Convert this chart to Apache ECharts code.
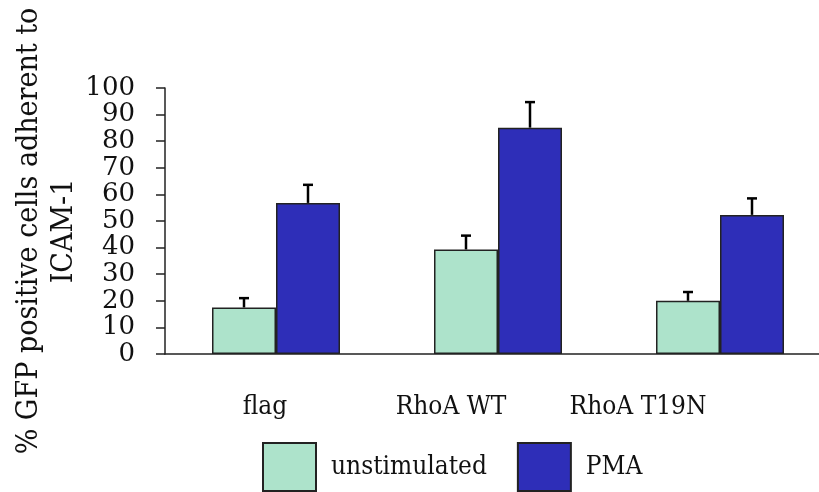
<!DOCTYPE html>
<html>
<head>
<meta charset="utf-8">
<script src="https://cdn.jsdelivr.net/npm/echarts@6/dist/echarts.min.js"></script>
<style>
  html, body { margin: 0; padding: 0; background: #fff; }
  #chart { width: 819px; height: 492px; }
</style>
</head>
<body>
<div id="chart"></div>
<script>
// values
const categories = ['flag', 'RhoA WT', 'RhoA T19N'];
const unstimulated = [17.5, 39.3, 20.0];
const unstimulatedErr = [3.5, 5.2, 3.3];
const pma = [56.8, 85.1, 52.3];
const pmaErr = [6.8, 9.6, 6.2];
const yTicks = { min: 0, max: 100, interval: 10 };

const BAR_W = 64;
const FONT = "'DejaVu Serif Condensed', 'DejaVu Serif'";

// upward-only error bar drawn over a bar (offset = shift from category centre)
function errorBars(values, errs, offset) {
  return {
    type: 'custom',
    silent: true,
    z: 5,
    data: values.map((v, i) => [i, v, errs[i]]),
    renderItem: function (params, api) {
      const base = api.coord([api.value(0), api.value(1)]);
      const top = api.coord([api.value(0), api.value(1) + api.value(2)]);
      const x = base[0] + offset;
      const style = { stroke: '#000', lineWidth: 2.5 };
      return {
        type: 'group',
        children: [
          { type: 'line', shape: { x1: x, y1: base[1], x2: x, y2: top[1] }, style },
          { type: 'line', shape: { x1: x - 5, y1: top[1], x2: x + 5, y2: top[1] }, style }
        ]
      };
    }
  };
}

const myChart = echarts.init(document.getElementById('chart'));
const option = {
  animation: false,
  backgroundColor: '#fff',
  grid: { left: 165, top: 88, bottom: 138, right: -12, outerBoundsMode: 'none', containLabel: false },
  legend: {
    left: 262,
    top: 442,
    padding: 0,
    itemWidth: 53,
    itemHeight: 48,
    itemGap: 30,
    icon: 'rect',
    data: ['unstimulated', 'PMA'],
    textStyle: { fontFamily: FONT, fontSize: 26, color: '#111', padding: [24, 0, 0, 10] }
  },
  xAxis: {
    type: 'category',
    data: categories,
    axisLine: { lineStyle: { color: '#222', width: 1.5 } },
    axisTick: { length: 11, lineStyle: { color: '#222', width: 1.5 } },
    axisLabel: {
      interval: 0,
      margin: 40,
      fontFamily: FONT,
      fontSize: 26,
      color: '#111',
      formatter: (v, i) => '{c' + i + '|' + v + '}',
      rich: {
        c0: { fontFamily: FONT, fontSize: 26, color: '#111', padding: [0, 22, 0, 0] },
        c1: { fontFamily: FONT, fontSize: 26, color: '#111', padding: [0, 94, 0, 0] },
        c2: { fontFamily: FONT, fontSize: 26, color: '#111', padding: [0, 164, 0, 0] }
      }
    }
  },
  yAxis: {
    type: 'value',
    min: yTicks.min,
    max: yTicks.max,
    interval: yTicks.interval,
    name: '% GFP positive cells adherent to\nICAM-1',
    nameLocation: 'middle',
    nameRotate: 90,
    nameGap: 83,
    nameMoveOverlap: false,
    nameTextStyle: { fontFamily: FONT, fontSize: 30, color: '#111', lineHeight: 35, padding: [0, 20, 0, 0] },
    axisLine: { show: true, lineStyle: { color: '#222', width: 1.5 } },
    axisTick: { show: true, length: 9, lineStyle: { color: '#222', width: 1.5 } },
    splitLine: { show: false },
    axisLabel: {
      margin: 30,
      hideOverlap: false,
      showMinLabel: true,
      showMaxLabel: true,
      fontFamily: 'DejaVu Serif',
      fontSize: 26,
      color: '#111'
    }
  },
  series: [
    {
      name: 'unstimulated',
      type: 'bar',
      barWidth: BAR_W,
      barGap: '0%',
      itemStyle: { color: '#ade3cb', borderColor: '#222', borderWidth: 1.5 },
      data: unstimulated
    },
    {
      name: 'PMA',
      type: 'bar',
      barWidth: BAR_W,
      barGap: '0%',
      itemStyle: { color: '#2e2eb8', borderColor: '#222', borderWidth: 1.5 },
      data: pma
    },
    errorBars(unstimulated, unstimulatedErr, -BAR_W / 2),
    errorBars(pma, pmaErr, BAR_W / 2)
  ]
};
option && myChart.setOption(option);
</script>
</body>
</html>
